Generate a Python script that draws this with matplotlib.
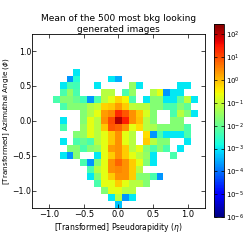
import numpy as np
import matplotlib
matplotlib.use("Agg")
import matplotlib.pyplot as plt
from matplotlib.colors import LogNorm

# bin centres
x_centers = [-0.9, -0.8, -0.7, -0.6, -0.5, -0.4, -0.3, -0.2, -0.1, 0.0, 0.1,
             0.2, 0.3, 0.4, 0.5, 0.6, 0.7, 0.8, 0.9, 1.0, 1.1]
y_centers = [0.7, 0.6, 0.5, 0.4, 0.3, 0.2, 0.1, 0.0, -0.1, -0.2, -0.3, -0.4,
             -0.5, -0.6, -0.7, -0.8, -0.9, -1.0, -1.1, -1.2]

# mean intensity per row (top to bottom), 0 = empty
row_p07 = [0, 0, 0, 1e-3, 0, 0, 0, 0, 0, 0, 0, 0, 0, 0, 0, 0, 0, 0, 0, 0, 0]
row_p06 = [0, 0, 2e-4, 2e-3, 0, 0, 0, 0, 1e-3, 3e-4, 0, 0, 0, 0, 0, 0, 0, 0, 0, 0, 0]
row_p05 = [0, 1e-3, 5e-3, 4e-3, 0, 0, 1e-3, 0, 0, 0, 0, 0.03, 1e-3, 0, 0, 0, 0, 0, 1e-3, 1e-3, 0]
row_p04 = [0, 5e-3, 0.03, 5e-3, 0, 0, 0, 0.07, 0.07, 0, 5e-3, 0.03, 0, 0, 0.06, 0.2, 2e-4, 1e-3, 1e-3, 0, 0]
row_p03 = [5e-3, 0.02, 0.02, 0.01, 4e-3, 2e-4, 5e-3, 0.07, 0.2, 0.6, 0.3, 5e-3, 0, 1e-3, 0.02, 0.02, 1e-3, 1e-3, 0.008, 0.08, 1e-3]
row_p02 = [0, 5e-3, 0.02, 0.02, 0.02, 0.06, 0.1, 0.6, 0.8, 2.0, 0.7, 0.08, 0.07, 0.07, 0.02, 0.02, 5e-3, 5e-3, 0.02, 0.008, 0]
row_p01 = [0, 0, 0, 0, 0.02, 0.06, 0.2, 2.0, 3.0, 20.0, 8.0, 2.5, 0.8, 0.15, 0.02, 0, 0, 5e-3, 0.07, 0.02, 1e-3]
row_000 = [0, 1e-3, 0, 0, 0.02, 0.2, 0.07, 2.5, 10.0, 120.0, 25.0, 2.5, 0.9, 0.07, 0.02, 0, 0, 0.02, 0.02, 0, 0]
row_m01 = [0, 5e-3, 0, 0, 0.03, 0.2, 0.07, 0.8, 8.0, 6.0, 2.5, 0.2, 0.5, 0.07, 0.05, 0.02, 0.02, 0.02, 0.02, 5e-3, 0]
row_m02 = [0, 0, 0, 0.02, 0.03, 0.2, 0.07, 0.2, 0.8, 2.5, 0.2, 0.07, 0, 0.5, 2e-4, 5e-3, 1e-3, 1e-3, 1e-3, 5e-3, 0]
row_m03 = [0, 1e-3, 0, 5e-3, 0.01, 5e-3, 0.07, 0.2, 0.8, 2.5, 0.2, 0.07, 0, 0.7, 0.07, 0.02, 0.02, 0, 0, 1e-3, 0]
row_m04 = [0, 0, 0.02, 0.02, 5e-3, 0.02, 0.03, 0.2, 2.0, 2.5, 0.7, 0.07, 0.2, 0.02, 5e-3, 0.02, 5e-3, 0, 1e-3, 0, 0]
row_m05 = [0, 1e-3, 2e-4, 0.02, 0, 0, 1e-3, 0.2, 0.7, 2.5, 0.7, 0.2, 0.07, 0.03, 1e-3, 0, 0, 5e-3, 0, 0, 0]
row_m06 = [0, 0, 0, 0, 5e-3, 2e-4, 0.02, 0.2, 2.5, 6.0, 2.5, 0.7, 0.2, 0.02, 1e-3, 0, 0, 0, 0, 0, 0]
row_m07 = [0, 0, 0, 0, 0, 5e-3, 0.07, 0.2, 2.5, 3.0, 2.5, 0.7, 0.07, 0, 0, 0, 0, 0, 0, 0, 0]
row_m08 = [0, 0, 0, 0, 0, 1e-3, 0.02, 0.2, 0.7, 2.5, 2.5, 0.7, 0.02, 0.02, 5e-3, 2e-4, 0, 0, 0, 0, 0]
row_m09 = [0, 0, 0, 0, 0, 0, 5e-3, 0.2, 0.2, 0.7, 0.2, 0.07, 0.07, 0.02, 0, 0, 0, 0, 0, 0, 0]
row_m10 = [0, 0, 0, 0, 0, 0, 0, 0.02, 0.2, 0.2, 0.07, 0.07, 0, 0, 0, 0, 0, 0, 0, 0, 0]
row_m11 = [0, 0, 0, 0, 0, 0, 0, 0, 1e-3, 0.07, 2e-4, 1e-3, 0, 0, 0, 0, 0, 0, 0, 0, 0]
row_m12 = [0, 0, 0, 0, 0, 0, 0, 0, 0, 5e-4, 0, 0, 0, 0, 0, 0, 0, 0, 0, 0, 0]

rows = [row_p07, row_p06, row_p05, row_p04, row_p03, row_p02, row_p01, row_000,
        row_m01, row_m02, row_m03, row_m04, row_m05, row_m06, row_m07, row_m08,
        row_m09, row_m10, row_m11, row_m12]

cbar_ticks = [1e-6, 1e-5, 1e-4, 1e-3, 1e-2, 1e-1, 1e0, 1e1, 1e2]
axis_ticks = [-1.0, -0.5, 0.0, 0.5, 1.0]
axis_tick_labels = ["\u22121.0", "\u22120.5", "0.0", "0.5", "1.0"]

Z = np.ma.masked_less_equal(np.array(rows, dtype=float), 0)
xc = np.array(x_centers)
yc = np.array(y_centers)
xe = np.concatenate([xc - 0.05, [xc[-1] + 0.05]])
yv = yc[::-1]
ye = np.concatenate([yv - 0.05, [yv[-1] + 0.05]])
Zp = Z[::-1]

fig = plt.figure(figsize=(2.49, 2.49), dpi=100)
ax = fig.add_axes([0.1285, 0.164, 0.6945, 0.701])
cax = fig.add_axes([0.859, 0.128, 0.041, 0.776])

norm = LogNorm(vmin=1e-6, vmax=280)
mesh = ax.pcolormesh(xe, ye, Zp, cmap="jet", norm=norm)
ax.set_xlim(-1.25, 1.25)
ax.set_ylim(-1.25, 1.25)
ax.set_xticks(axis_ticks)
ax.set_yticks(axis_ticks)
ax.set_xticklabels(axis_tick_labels)
ax.set_yticklabels(axis_tick_labels)
ax.tick_params(direction="in", top=True, right=True, length=3, width=0.5)
ax.tick_params(axis="x", pad=1.5, labelsize=6)
ax.tick_params(axis="y", pad=0.5, labelsize=5.6)
for s in ax.spines.values():
    s.set_linewidth(0.6)

ax.set_xlabel(r"[Transformed] Pseudorapidity ($\eta$)", fontsize=5.5, labelpad=1.5)
ax.set_ylabel(r"[Transformed] Azimuthal Angle ($\phi$)", fontsize=5.2)
ax.yaxis.set_label_coords(-0.114, 0.5)
ax.set_title("Mean of the 500 most bkg looking\ngenerated images", fontsize=6.5,
             linespacing=1.15, pad=1.5)

cb = fig.colorbar(mesh, cax=cax, ticks=cbar_ticks)
cb.ax.minorticks_off()
cb.ax.tick_params(direction="in", left=True, right=True, length=2.5, width=0.5,
                  labelsize=5, pad=1.5)
cb.outline.set_linewidth(0.6)

fig.savefig("out.png", dpi=100)
